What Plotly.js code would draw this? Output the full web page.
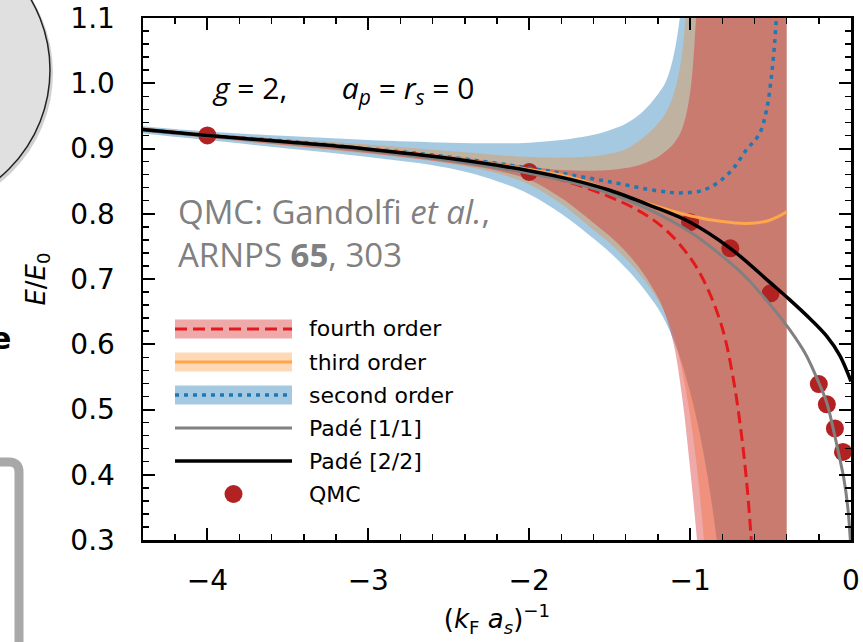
<!DOCTYPE html>
<html><head><meta charset="utf-8">
<script src="https://cdn.plot.ly/plotly-3.0.1.min.js"></script>
<style>html,body{margin:0;padding:0;background:#fff;} #chart{width:863px;height:642px;}</style>
</head><body><div id="chart"></div>
<script>
// ---------- data ----------
const xBand = [-4.4,-4.0,-3.5,-3.0,-2.5,-2.2,-2.0,-1.8,-1.6,-1.5,-1.4,-1.3,-1.2,-1.15,-1.1,-1.05,-1.0,-0.95,-0.9,-0.85,-0.8,-0.7,-0.6,-0.5,-0.4];
const secondUpper = [0.934,0.926,0.919,0.913,0.909,0.908,0.909,0.913,0.921,0.928,0.938,0.955,0.983,1.003,1.045,1.130,1.3,1.3,1.3,1.3,1.3,1.3,1.3,1.3,1.3];
const secondLower = [0.923,0.913,0.900,0.887,0.870,0.850,0.830,0.800,0.762,0.741,0.717,0.689,0.655,0.633,0.605,0.570,0.527,0.475,0.410,0.330,0.230,0.1,0.1,0.1,0.1];
const thirdUpper  = [0.932,0.923,0.914,0.906,0.896,0.890,0.887,0.886,0.888,0.892,0.899,0.915,0.938,0.955,0.985,1.045,1.2,1.3,1.3,1.3,1.3,1.3,1.3,1.3,1.3];
const thirdLower  = [0.926,0.916,0.904,0.892,0.877,0.862,0.845,0.815,0.775,0.755,0.731,0.703,0.668,0.645,0.612,0.560,0.490,0.395,0.260,0.12,0.1,0.1,0.1,0.1,0.1];
const fourthUpper = [0.930,0.921,0.911,0.902,0.889,0.879,0.872,0.867,0.866,0.867,0.870,0.876,0.887,0.896,0.908,0.930,0.985,1.15,1.3,1.3,1.3,1.3,1.3,1.3,1.3];
const fourthLower = [0.927,0.917,0.905,0.893,0.878,0.866,0.852,0.824,0.786,0.766,0.742,0.712,0.672,0.643,0.598,0.520,0.410,0.280,0.12,0.1,0.1,0.1,0.1,0.1,0.1];

const xSecond = [-4.4,-4,-3.5,-3,-2.5,-2,-1.8,-1.5,-1.2,-1.05,-0.92,-0.82,-0.73,-0.65,-0.57,-0.525,-0.495,-0.473,-0.46];
const ySecond = [0.929,0.920,0.911,0.900,0.887,0.870,0.862,0.849,0.835,0.832,0.836,0.849,0.870,0.898,0.922,0.959,1.01,1.066,1.12];

const xThird = [-4.4,-4,-3.5,-3,-2.5,-2,-1.8,-1.6,-1.4,-1.2,-1.0,-0.8,-0.65,-0.52,-0.45,-0.4];
const yThird = [0.929,0.920,0.910,0.900,0.886,0.868,0.859,0.845,0.827,0.811,0.797,0.788,0.785,0.789,0.796,0.803];

const xFourth = [-4.4,-4,-3.5,-3,-2.5,-2,-1.75,-1.5,-1.3,-1.15,-1.0,-0.9,-0.8,-0.73,-0.68,-0.645,-0.624,-0.61];
const yFourth = [0.929,0.920,0.910,0.899,0.885,0.864,0.848,0.826,0.802,0.775,0.733,0.690,0.625,0.545,0.460,0.380,0.315,0.27];

const xPade11 = [-4.4,-4,-3.5,-3,-2.5,-2,-1.75,-1.5,-1.25,-1,-0.8,-0.65,-0.5,-0.38,-0.28,-0.2,-0.15,-0.11,-0.07,-0.045,-0.02,0];
const yPade11 = [0.928,0.919,0.909,0.897,0.882,0.862,0.849,0.831,0.806,0.772,0.735,0.702,0.660,0.622,0.584,0.541,0.510,0.470,0.425,0.395,0.350,0.285];

const xPade22 = [-4.4,-4,-3.5,-3,-2.5,-2,-1.75,-1.5,-1.25,-1,-0.75,-0.5,-0.38,-0.25,-0.15,-0.07,0];
const yPade22 = [0.929,0.920,0.910,0.899,0.885,0.866,0.853,0.836,0.813,0.787,0.747,0.694,0.668,0.638,0.612,0.583,0.543];

const xQMC = [-4,-2,-1,-0.75,-0.5,-0.2,-0.15,-0.1,-0.05];
const yQMC = [0.920,0.864,0.787,0.747,0.678,0.539,0.508,0.471,0.435];

const legendLabels = ['fourth order','third order','second order','Padé [1/1]','Padé [2/2]','QMC'];

// ---------- styles ----------
const C = {
  blueFill:'rgba(31,119,180,0.4)', orangeFill:'rgba(255,127,14,0.3)', redFill:'rgba(214,39,40,0.4)',
  blue:'#1f77b4', orange:'#ffa64d', red:'#e31a1c', gray:'#808080', black:'#000000', dot:'#b22222'
};
const DASH = '12px,6px', DOT = '4px,5px';

function band(lo, up, fill){
  return [
    {x:xBand, y:lo, mode:'lines', line:{width:0, color:'rgba(0,0,0,0)', shape:'spline', smoothing:1}, hoverinfo:'skip', showlegend:false},
    {x:xBand, y:up, mode:'lines', fill:'tonexty', fillcolor:fill, line:{width:0, color:'rgba(0,0,0,0)', shape:'spline', smoothing:1}, hoverinfo:'skip', showlegend:false}
  ];
}
const SM = {shape:'spline', smoothing:1};
const traces = [].concat(
  band(secondLower, secondUpper, C.blueFill),
  band(thirdLower, thirdUpper, C.orangeFill),
  band(fourthLower, fourthUpper, C.redFill),
  [
    {x:xQMC, y:yQMC, mode:'markers', marker:{size:18, color:C.dot}, showlegend:false},
    {x:xSecond, y:ySecond, mode:'lines', line:Object.assign({color:C.blue, width:3.5, dash:DOT}, SM), showlegend:false},
    {x:xThird, y:yThird, mode:'lines', line:Object.assign({color:C.orange, width:3}, SM), showlegend:false},
    {x:xFourth, y:yFourth, mode:'lines', line:Object.assign({color:C.red, width:3, dash:DASH}, SM), showlegend:false},
    {x:xPade11, y:yPade11, mode:'lines', line:Object.assign({color:C.gray, width:3}, SM), showlegend:false},
    {x:xPade22, y:yPade22, mode:'lines', line:Object.assign({color:C.black, width:3.5}, SM), showlegend:false}
  ]
);

// pixel -> paper helpers (plot area 143..851 x 18..540)
const PX = x => (x-143)/708;
const PY = y => (540-y)/522;

const shapes = [];
const annotations = [];

// custom legend
const rows = [329,362,395,428,461,494];
const lx0 = 175, lx1 = 292;
const patchFills = [C.redFill, C.orangeFill, C.blueFill];
const lineSpecs = [
  {color:C.red, width:3, dash:DASH},
  {color:C.orange, width:3, dash:'solid'},
  {color:C.blue, width:3.5, dash:DOT},
  {color:C.gray, width:3, dash:'solid'},
  {color:C.black, width:3.5, dash:'solid'}
];
rows.forEach((r,i)=>{
  if(i<3) shapes.push({type:'rect', xref:'paper', yref:'paper', x0:PX(lx0), x1:PX(lx1), y0:PY(r+9.5), y1:PY(r-9.5), fillcolor:patchFills[i], line:{width:0}});
  if(i<5) shapes.push({type:'line', xref:'paper', yref:'paper', x0:PX(lx0), x1:PX(lx1), y0:PY(r), y1:PY(r), line:lineSpecs[i]});
  else shapes.push({type:'circle', xref:'paper', yref:'paper', x0:PX(233.5-9), x1:PX(233.5+9), y0:PY(r+9), y1:PY(r-9), fillcolor:C.dot, line:{width:0}});
  annotations.push({xref:'paper', yref:'paper', x:PX(307), y:PY(r), xanchor:'left', yanchor:'middle', showarrow:false,
    text:legendLabels[i], font:{family:'DejaVu Sans', size:22, color:'#000'}});
});

// text annotations inside plot
const NB = '\u00a0';
annotations.push({xref:'paper', yref:'paper', x:PX(210), y:PY(89), xanchor:'left', yanchor:'middle', showarrow:false,
  text:'<i>g</i>'+NB+'='+NB+'2,'+NB.repeat(7)+'<i>a</i><sub><i>p</i></sub>'+NB+'='+NB+'<i>r</i><sub><i>s</i></sub>'+NB+'='+NB+'0',
  font:{family:'Open Sans', size:30, color:'#000'}});
annotations.push({xref:'paper', yref:'paper', x:PX(176), y:PY(211), xanchor:'left', yanchor:'middle', showarrow:false,
  text:'QMC: Gandolfi <i>et al.</i>,', font:{family:'Open Sans', size:33, color:'#808080'}});
annotations.push({xref:'paper', yref:'paper', x:PX(176), y:PY(255), xanchor:'left', yanchor:'middle', showarrow:false,
  text:'ARNPS <b>65</b>, 303', font:{family:'Open Sans', size:33, color:'#808080'}});

// decorations at left edge (cropped slide elements)
shapes.push({type:'circle', xref:'paper', yref:'paper', layer:'above', x0:PX(-227), x1:PX(53), y0:PY(213), y1:PY(-67), fillcolor:'rgba(0,0,0,0.18)', line:{width:0}});
shapes.push({type:'circle', xref:'paper', yref:'paper', layer:'above', x0:PX(-230), x1:PX(50), y0:PY(210), y1:PY(-70), fillcolor:'#e0e0e0', line:{color:'#222', width:1.5}});
shapes.push({type:'path', xref:'paper', yref:'paper', layer:'above',
  path:`M ${PX(-10)},${PY(462)} L ${PX(9)},${PY(462)} Q ${PX(19)},${PY(462)} ${PX(19)},${PY(472)} L ${PX(19)},${PY(660)}`,
  line:{color:'#a8a8a8', width:9}});
annotations.push({xref:'paper', yref:'paper', x:PX(13), y:PY(338), xanchor:'right', yanchor:'middle', showarrow:false,
  text:'<b>e</b>', font:{family:'DejaVu Sans', size:30, color:'#000'}});

const axisCommon = {
  showline:true, linecolor:'#000', linewidth:2.5, mirror:'ticks', ticks:'inside', ticklen:12, tickwidth:2, tickcolor:'#000',
  showgrid:false, zeroline:false, tickfont:{family:'DejaVu Sans', size:28, color:'#000'}
};
const layout = {
  width:863, height:642, margin:{l:143, r:12, t:18, b:102, pad:0},
  paper_bgcolor:'#fff', plot_bgcolor:'#fff', showlegend:false,
  xaxis: Object.assign({}, axisCommon, {range:[-4.4,0], dtick:1, tick0:0, ticklabelstandoff:14,
    minor:{dtick:0.2, tick0:0, ticks:'inside', ticklen:6, tickwidth:1.5, tickcolor:'#000', showgrid:false},
    title:{text:'(<i>k</i><sub>F</sub> <i>a</i><sub><i>s</i></sub>)<sup>−1</sup>', font:{family:'DejaVu Sans', size:26, color:'#000'}, standoff:14}}),
  yaxis: Object.assign({}, axisCommon, {range:[0.3,1.1], dtick:0.1, tick0:0, tickformat:'.1f', ticklabelstandoff:20,
    minor:{dtick:0.02, tick0:0, ticks:'inside', ticklen:6, tickwidth:1.5, tickcolor:'#000', showgrid:false},
    title:{text:'<i>E</i>/<i>E</i><sub>0</sub>', font:{family:'DejaVu Sans', size:26, color:'#000'}, standoff:18}}),
  shapes: shapes, annotations: annotations
};
Plotly.newPlot('chart', traces, layout, {staticPlot:true, displayModeBar:false});
</script></body></html>
